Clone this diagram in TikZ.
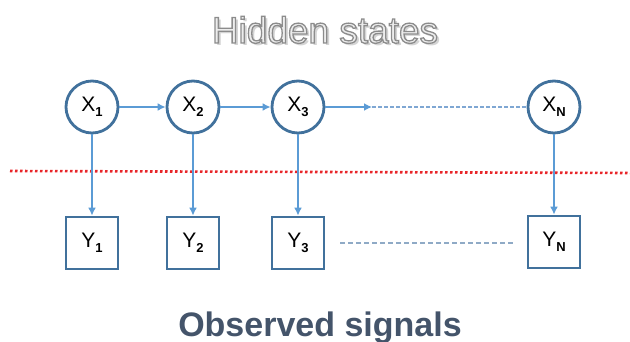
\documentclass[tikz,border=0pt]{standalone}
\usepackage{fontspec}
\setmainfont{Liberation Sans}
\usetikzlibrary{arrows.meta}
\definecolor{nodeborder}{HTML}{41719C}
\definecolor{arrowblue}{HTML}{5B9BD5}
\definecolor{dashblue}{HTML}{7FA7D3}
\definecolor{dashgray}{HTML}{8FAAC6}
\definecolor{dotred}{HTML}{E8262A}
\definecolor{obsdark}{HTML}{44546A}
\definecolor{hsfill}{HTML}{EDEDED}
\definecolor{hsshadow}{HTML}{D4D4D4}
\newcommand{\lbl}[2]{{\fontsize{21}{21}\selectfont #1}\raisebox{-4.5pt}{\fontsize{13}{13}\selectfont\bfseries #2}}
\newcommand{\outlinetext}[1]{\special{pdf:literal direct 0.55 0.55 0.55 RG 1.3 w 2 Tr}#1\special{pdf:literal direct 0 Tr}}
\begin{document}
\begin{tikzpicture}[x=1pt,y=-1pt,
  hstate/.style={circle,draw=nodeborder,line width=2.8pt,fill=white,minimum size=52pt,inner sep=0pt},
  obsbox/.style={rectangle,draw=nodeborder,line width=2.8pt,fill=white,minimum size=52pt,inner sep=0pt},
  link/.style={draw=arrowblue,line width=2.6pt,-{Latex[length=8pt,width=8pt]}},
  dashlink/.style={draw=dashblue,line width=1.3pt,dash pattern=on 4pt off 2pt},
  hidtxt/.style={font=\fontsize{37}{37}\selectfont,anchor=base,inner sep=0pt}]
\useasboundingbox (0,0) rectangle (630,342);
% title with outline and shadow
\node[hidtxt,text=hsshadow] (hsh) at (327.5,45.5) {Hidden states};
\node[hidtxt,text=hsfill] (hs) at (325,43) {\outlinetext{Hidden states}};
% red dotted separator
\coordinate (sepL) at (10,171);
\coordinate (sepR) at (630,173);
\draw[dotred,line width=2.6pt,dash pattern=on 2.5pt off 2.5pt] (sepL) -- (sepR);
% nodes
\node[hstate] (x1) at (92,107) {\lbl{X}{1}};
\node[hstate] (x2) at (193,107) {\lbl{X}{2}};
\node[hstate] (x3) at (298,107) {\lbl{X}{3}};
\node[hstate] (xn) at (554,107) {\lbl{X}{N}};
\node[obsbox] (y1) at (92,243) {\lbl{Y}{1}};
\node[obsbox] (y2) at (193,243) {\lbl{Y}{2}};
\node[obsbox] (y3) at (298,243) {\lbl{Y}{3}};
\node[obsbox] (yn) at (554,242) {\lbl{Y}{N}};
% connectors
\draw[link] (x1) -- (x2);
\draw[link] (x2) -- (x3);
\coordinate (x3end) at (372,107);
\draw[link] (x3) -- (x3end);
\draw[dashlink] (x3end) -- (xn);
\draw[link] (x1) -- (y1);
\draw[link] (x2) -- (y2);
\draw[link] (x3) -- (y3);
\draw[link] (xn) -- (yn);
\coordinate (ydL) at (340,243);
\coordinate (ydR) at (514,243);
\draw[draw=dashgray,line width=1.4pt,dash pattern=on 5pt off 3pt] (ydL) -- (ydR);
% bottom title
\node[font=\fontsize{34}{34}\selectfont\bfseries,text=obsdark,anchor=base,inner sep=0pt] (obs) at (320,336) {Observed signals};
\end{tikzpicture}
\end{document}
